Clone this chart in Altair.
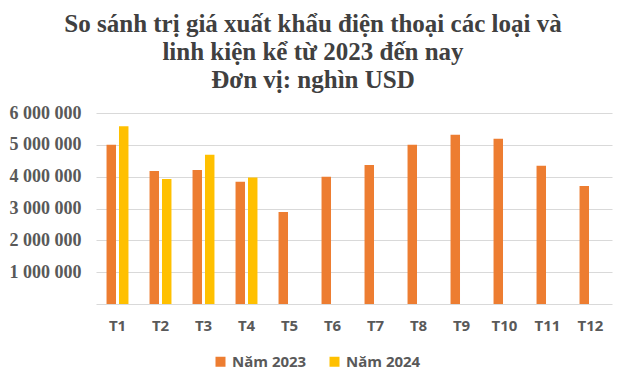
import altair as alt
import pandas as pd

months = ["T1", "T2", "T3", "T4", "T5", "T6", "T7", "T8", "T9", "T10", "T11", "T12"]
values_2023 = [5000000, 4180000, 4210000, 3840000, 2890000, 4000000, 4370000, 5000000, 5320000, 5190000, 4340000, 3710000]
months_2024 = ["T1", "T2", "T3", "T4"]
values_2024 = [5580000, 3930000, 4690000, 3970000]
series = ["Năm 2023", "Năm 2024"]
colors = ["#ED7D31", "#FFC000"]
y_ticks = [0, 1000000, 2000000, 3000000, 4000000, 5000000, 6000000]

rows = [{"month": m, "series": series[0], "value": v} for m, v in zip(months, values_2023)]
rows += [{"month": m, "series": series[1], "value": v} for m, v in zip(months_2024, values_2024)]
df = pd.DataFrame(rows)

chart = alt.Chart(df).mark_bar().encode(
    x=alt.X("month:N", sort=months, scale=alt.Scale(domain=months, paddingInner=0.49, paddingOuter=0.245),
            axis=alt.Axis(title=None, labelAngle=0, ticks=False, domain=False, labelPadding=14,
                          labelFont="Open Sans", labelFontWeight="bold", labelFontSize=15,
                          labelColor="#595959")),
    xOffset=alt.XOffset("series:N", scale=alt.Scale(domain=series, paddingInner=0.24, paddingOuter=0)),
    y=alt.Y("value:Q", scale=alt.Scale(domain=[0, 6000000], nice=False),
            axis=alt.Axis(title=None, values=y_ticks, ticks=False, domain=False, grid=True,
                          gridColor="#D9D9D9", gridWidth=1, labelPadding=15,
                          labelFont="Liberation Serif", labelFontWeight="bold", labelFontSize=18,
                          labelColor="#595959",
                          labelExpr="datum.value == 0 ? '' : replace(format(datum.value, ','), /,/g, ' ')")),
    color=alt.Color("series:N", scale=alt.Scale(domain=series, range=colors),
                    legend=alt.Legend(title=None, orient="none", direction="horizontal",
                                      legendX=117, legendY=241, symbolType="square", symbolSize=100,
                                      symbolStrokeWidth=0, labelFont="Open Sans", labelFontWeight="bold",
                                      labelFontSize=15, labelColor="#595959", columnPadding=20)),
).properties(
    width=516,
    height=191,
    padding={"left": 88, "top": 105, "right": 5, "bottom": 70},
    autosize=alt.AutoSizeParams(type="none"),
    title=alt.TitleParams(
        text=["So sánh trị giá xuất khẩu điện thoại các loại và", "linh kiện kể từ 2023 đến nay", "Đơn vị: nghìn USD"],
        font="Liberation Serif", fontSize=25, fontWeight="bold", color="#404040",
        anchor="middle", lineHeight=28, dx=-41, offset=11,
    ),
).configure_view(stroke=None)

chart.save("out.html", embed_options={"renderer": "svg", "actions": False})
